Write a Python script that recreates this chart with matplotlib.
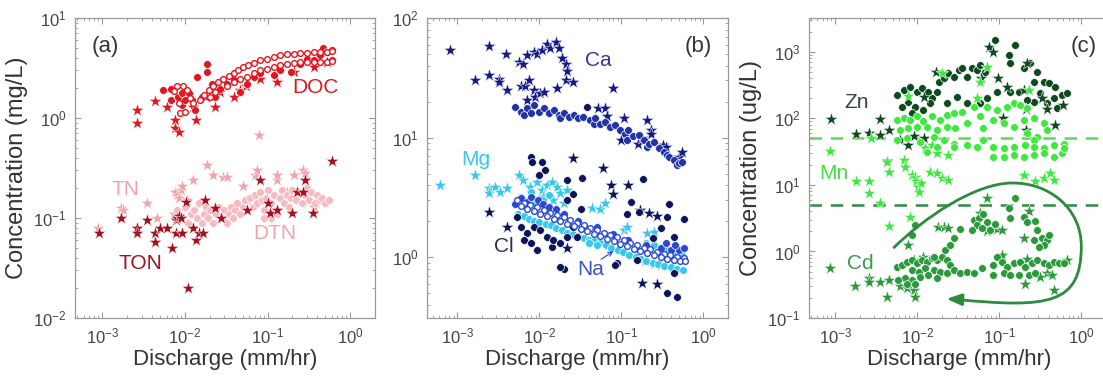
import matplotlib
matplotlib.use("Agg")
import matplotlib.pyplot as plt
from matplotlib.path import Path
from matplotlib.patches import PathPatch

plt.rcParams['font.family'] = ['Liberation Sans', 'DejaVu Sans']
plt.rcParams['mathtext.fontset'] = 'custom'
plt.rcParams['mathtext.rm'] = 'Liberation Sans'
plt.rcParams['mathtext.it'] = 'Liberation Sans:italic'
plt.rcParams['mathtext.bf'] = 'Liberation Sans:bold'

# ---------------- panel (a) data ----------------
doc_star_x = [2.6e-3, 2.6e-3, 4.4e-3, 6.0e-3, 7.6e-3, 7.6e-3, 8.4e-3, 0.0125, 0.0135, 0.018, 0.0233, 0.0267,
              0.0388, 0.0467, 0.055, 0.081, 0.13, 0.206, 0.36, 0.52]
doc_star_y = [1.2, 0.885, 1.48, 1.3, 0.96, 0.79, 0.73, 1.3, 0.96, 1.63, 1.28, 1.8, 1.63, 1.9, 2.1, 2.45, 2.3,
              2.9, 3.26, 3.6]
doc_dot_x = [5.5e-3, 6.7e-3, 6.7e-3, 8.2e-3, 9.2e-3, 9.2e-3, 0.0101, 0.0111, 0.0122, 0.0133, 0.014, 0.0161,
             0.0185, 0.0185, 0.0212, 0.0233, 0.0267, 0.0322, 0.0388, 0.0467, 0.056, 0.068, 0.081, 0.118, 0.142,
             0.19, 0.248, 0.30, 0.36, 0.43, 0.47, 0.52, 0.60, 0.60]
doc_dot_y = [1.9, 1.95, 1.51, 1.63, 1.35, 1.77, 1.51, 1.77, 1.51, 1.2, 2.6, 1.63, 3.5, 2.9, 2.2, 1.63, 1.95, 2.2,
             2.4, 1.8, 2.2, 2.6, 2.8, 2.7, 3.0, 2.9, 3.5, 3.9, 3.8, 4.3, 5.0, 4.6, 4.8, 3.8]
doc_open_x = [9.4e-3, 0.0106, 0.0116, 0.0127, 0.0153, 0.0168, 0.0193, 0.022, 0.025, 0.029, 0.034, 0.039, 0.044,
              0.051, 0.058, 0.068, 0.081, 0.098, 0.118, 0.142, 0.171, 0.206, 0.248, 0.30, 0.36, 0.43, 0.52, 0.60,
              0.020, 0.0233, 0.0322, 0.0388, 0.0467, 0.056, 0.068, 0.081, 0.098, 0.118, 0.142, 0.171, 0.206,
              0.248, 0.30, 0.36, 0.43, 0.52, 0.60,
              7.3e-3, 8.4e-3, 8.8e-3, 0.0101, 8.0e-3]
doc_open_y = [2.1, 1.9, 1.57, 1.4, 1.51, 1.7, 1.9, 2.1, 2.3, 2.45, 2.65, 2.8, 3.0, 3.2, 3.4, 3.55, 3.8, 3.9, 4.1,
              4.25, 4.35, 4.4, 4.5, 4.5, 4.6, 4.6, 4.6, 4.7,
              1.63, 1.8, 2.1, 2.3, 2.45, 2.6, 2.8, 3.0, 3.1, 3.26, 3.4, 3.45, 3.55, 3.65, 3.65, 3.65, 3.65, 3.65,
              3.75,
              1.85, 1.4, 1.11, 1.15, 2.1]
tn_x = [9e-4, 1.7e-3, 1.8e-3, 3.5e-3, 4.6e-3, 7.3e-3, 7.6e-3, 8.0e-3, 8.5e-3, 9.0e-3, 9.1e-3, 0.0105, 0.0126,
        0.0154, 0.0186, 0.022, 0.029, 0.032, 0.051, 0.056, 0.071, 0.074, 0.078, 0.13, 0.13, 0.17, 0.21, 0.27,
        0.28, 0.36]
tn_y = [0.08, 0.126, 0.12, 0.14, 0.10, 0.11, 0.18, 0.17, 0.16, 0.19, 0.21, 0.15, 0.24, 0.14, 0.34, 0.27, 0.26,
        0.26, 0.21, 0.15, 0.27, 0.30, 0.68, 0.24, 0.27, 0.18, 0.27, 0.30, 0.28, 0.13]
dtn_x = [0.008, 0.009, 0.010, 0.011, 0.012, 0.013, 0.014, 0.015, 0.016, 0.017, 0.018, 0.019, 0.020, 0.022, 0.024,
         0.026, 0.028, 0.030, 0.032, 0.034, 0.036, 0.038, 0.040, 0.043, 0.046, 0.050, 0.054, 0.058, 0.062, 0.066,
         0.070, 0.075, 0.080, 0.085, 0.090, 0.095, 0.10, 0.11, 0.12, 0.13, 0.14, 0.15, 0.16, 0.17, 0.18, 0.19,
         0.20, 0.22, 0.24, 0.26, 0.28, 0.30, 0.32, 0.34, 0.37, 0.40, 0.43, 0.46, 0.50, 0.55, 0.11, 0.13, 0.09]
dtn_y = [0.12, 0.10, 0.13, 0.09, 0.11, 0.12, 0.10, 0.14, 0.09, 0.11, 0.13, 0.10, 0.12, 0.09, 0.11, 0.13, 0.10,
         0.12, 0.09, 0.11, 0.13, 0.10, 0.12, 0.14, 0.11, 0.13, 0.15, 0.12, 0.16, 0.13, 0.17, 0.14, 0.18, 0.15,
         0.12, 0.16, 0.19, 0.14, 0.17, 0.12, 0.16, 0.19, 0.14, 0.17, 0.13, 0.16, 0.19, 0.15, 0.18, 0.14, 0.17,
         0.20, 0.15, 0.18, 0.14, 0.17, 0.15, 0.16, 0.14, 0.15, 0.10, 0.11, 0.10]
ton_x = [9.1e-4, 1.7e-3, 2.6e-3, 2.6e-3, 3.5e-3, 4.4e-3, 4.4e-3, 5.0e-3, 6.0e-3, 6.9e-3, 7.8e-3, 8.0e-3, 8.5e-3,
         7.8e-3, 9.3e-3, 9.0e-3, 0.0103, 0.011, 0.0126, 0.0138, 0.015, 0.0166, 0.0177, 0.0234, 0.027, 0.056,
         0.081, 0.10, 0.107, 0.13, 0.195, 0.23, 0.27, 0.28, 0.35, 0.60]
ton_y = [0.071, 0.10, 0.079, 0.071, 0.095, 0.071, 0.058, 0.08, 0.079, 0.050, 0.095, 0.10, 0.105, 0.071, 0.071,
         0.10, 0.145, 0.020, 0.079, 0.060, 0.07, 0.071, 0.15, 0.126, 0.10, 0.12, 0.24, 0.14, 0.112, 0.12, 0.112,
         0.18, 0.18, 0.24, 0.112, 0.37]

# ---------------- panel (b) data ----------------
ca_star_x = [8.2e-4, 1.66e-3, 2.4e-3, 2.4e-3, 3.2e-3, 3.2e-3, 3.9e-3, 4.0e-3, 5.6e-3, 5.9e-3, 6.4e-3, 6.7e-3,
             7.1e-3, 7.1e-3, 7.4e-3, 8.5e-3, 8.5e-3, 8.9e-3, 9.3e-3, 0.0103, 0.0107, 0.0113, 0.0123, 0.0135,
             0.0158, 0.0165, 0.0174, 0.019, 0.021, 0.021, 0.022, 0.026, 0.052, 0.063, 0.067, 0.078, 0.10, 0.107,
             0.16, 0.18, 0.205, 0.23, 0.23, 0.32, 0.35, 0.50, 0.55]
ca_star_y = [54, 30.5, 58, 33.5, 31, 29, 50, 25, 43, 27, 41, 27, 49, 20.6, 30, 52, 25, 22, 50, 23.4, 54, 24, 61,
             56, 63, 26, 56, 46, 41, 30, 36, 29, 17.5, 17.5, 15, 26, 9.5, 14.5, 8.9, 10, 14, 11.5, 10.8, 8.7,
             8.3, 6.9, 7.6]
ca_dot_x = [5.1e-3, 5.9e-3, 6.45e-3, 7.06e-3, 7.8e-3, 8.5e-3, 9.8e-3, 0.0113, 0.013, 0.015, 0.0172, 0.018,
            0.0198, 0.0228, 0.0262, 0.030, 0.0345, 0.0418, 0.046, 0.048, 0.0554, 0.064, 0.0733, 0.0843, 0.097,
            0.111, 0.117, 0.122, 0.14, 0.162, 0.187, 0.205, 0.215, 0.248, 0.285, 0.328, 0.36, 0.377, 0.434,
            0.475, 0.50, 0.55]
ca_dot_y = [18.1, 16.5, 15.4, 17.6, 15.9, 18.7, 16.5, 17.6, 15.9, 17.0, 15.4, 14.5, 15.9, 14.9, 15.4, 14.5,
            14.9, 14.0, 13.1, 14.5, 13.1, 13.6, 12.3, 12.7, 11.6, 10.8, 9.5, 11.6, 10.2, 10.5, 9.5, 8.4, 8.9,
            9.2, 8.1, 7.6, 7.1, 6.9, 6.5, 5.9, 6.1, 6.3]
mg_star_x = [6.2e-4, 1.66e-3, 2.4e-3, 2.4e-3, 2.9e-3, 3.3e-3, 4.0e-3, 5.6e-3, 6.4e-3, 7.4e-3, 7.7e-3, 8.9e-3,
             9.3e-3, 0.0107, 0.0112, 0.0123, 0.0141, 0.0148, 0.0165, 0.018, 0.020, 0.022, 0.044, 0.055, 0.064,
             0.107, 0.117, 0.195, 0.205, 0.248, 0.248, 0.30, 0.43]
mg_star_y = [4.0, 4.9, 3.76, 3.41, 3.88, 3.5, 3.76, 4.85, 4.4, 3.0, 3.88, 2.81, 4.27, 3.64, 3.2, 4.0, 4.27, 3.0,
             3.88, 3.41, 2.81, 3.64, 2.55, 2.5, 2.83, 1.7, 1.8, 0.92, 1.58, 1.63, 0.88, 0.86, 0.82]
mg_dot_x = [5.5e-3, 6.5e-3, 7.5e-3, 8.5e-3, 0.010, 0.012, 0.014, 0.016, 0.019, 0.022, 0.026, 0.030, 0.035,
            0.040, 0.047, 0.055, 0.065, 0.075, 0.090, 0.105, 0.125, 0.150, 0.175, 0.20, 0.24, 0.28, 0.33, 0.40,
            0.48, 0.57, 0.20, 0.25, 0.30, 0.36, 0.45, 0.55, 6.0e-3, 8.0e-3, 0.011, 0.013, 0.04, 0.05]
mg_dot_y = [2.3, 2.2, 2.1, 2.0, 1.95, 1.9, 1.85, 1.75, 1.7, 1.6, 1.55, 1.5, 1.45, 1.4, 1.35, 1.3, 1.25, 1.2,
            1.15, 1.1, 1.05, 1.0, 0.97, 0.93, 0.9, 0.87, 0.84, 0.82, 0.80, 0.78, 1.3, 1.25, 1.2, 1.15, 1.1, 1.05,
            3.2, 3.5, 3.0, 3.3, 1.3, 1.25]
cl_star_x = [2.4e-3, 4.0e-3, 0.026, 0.060, 0.12, 0.022, 0.17, 0.22, 0.27, 0.074, 0.078, 0.18, 0.27]
cl_star_y = [2.4, 1.78, 6.8, 5.6, 4.0, 1.19, 2.46, 2.35, 2.2, 4.0, 3.4, 0.61, 0.60]
cl_dot_x = [7.8e-3, 8.1e-3, 0.0107, 0.0117, 9.9e-3, 5.3e-3, 5.9e-3, 7.1e-3, 6.5e-3, 7.8e-3, 9.3e-3, 8.5e-3,
            0.0102, 0.0123, 0.0141, 0.0148, 0.018, 0.022, 0.026, 0.029, 0.020, 0.033, 0.022, 0.022, 0.026, 0.032,
            0.089, 0.13, 0.117, 0.162, 0.155, 0.20, 0.24, 0.30, 0.36, 0.38, 0.44, 0.58, 0.44, 0.36, 0.48, 0.185,
            0.038, 0.018, 0.084]
cl_dot_y = [6.9, 6.2, 6.2, 5.4, 4.9, 2.18, 1.80, 1.58, 1.39, 1.30, 1.14, 1.80, 1.68, 1.48, 1.22, 1.39, 1.30,
            1.48, 1.80, 1.48, 0.80, 4.6, 4.4, 3.0, 3.4, 2.5, 0.89, 2.9, 2.3, 2.4, 0.94, 1.15, 1.43, 1.74, 2.18,
            2.8, 1.48, 2.1, 0.74, 0.50, 0.46, 4.5, 18, 0.83, 0.85]
na_open_x = [5.35e-3, 6.44e-3, 7.76e-3, 9.37e-3, 0.0113, 0.0136, 0.0164, 0.0198, 0.0239, 0.0288, 0.0347,
             0.0419, 0.0505, 0.0609, 0.0735, 0.0886, 0.107, 0.129, 0.155, 0.187, 0.226, 0.272, 0.328, 0.396,
             0.478, 0.576,
             5.9e-3, 7.1e-3, 8.5e-3, 0.0103, 0.0124, 0.015, 0.018, 0.0218, 0.0263, 0.0318, 0.0383, 0.046,
             0.0556, 0.067, 0.081, 0.097, 0.117, 0.142, 0.171, 0.206, 0.248, 0.30, 0.36, 0.435, 0.525, 0.60]
na_open_y = [3.0, 2.85, 2.72, 2.6, 2.47, 2.35, 2.25, 2.15, 2.04, 1.94, 1.84, 1.76, 1.68, 1.60, 1.53, 1.46, 1.39,
             1.32, 1.26, 1.20, 1.16, 1.11, 1.07, 1.04, 1.01, 0.975,
             2.65, 2.52, 2.42, 2.3, 2.2, 2.1, 2.0, 1.9, 1.81, 1.72, 1.64, 1.56, 1.49, 1.42, 1.35, 1.29, 1.23,
             1.17, 1.12, 1.08, 1.04, 1.0, 0.97, 0.95, 0.93, 0.92]
na_dot_x = [5.0e-3, 6.0e-3, 7.0e-3, 8.0e-3, 9.5e-3, 0.011, 0.013, 0.016, 0.02, 0.03, 0.05, 0.08, 0.12, 0.2, 0.3,
            0.4, 0.5, 0.58, 0.35, 0.45]
na_dot_y = [2.8, 3.1, 2.9, 3.2, 3.0, 2.8, 2.6, 2.5, 2.3, 2.0, 1.8, 1.55, 1.4, 1.25, 1.2, 1.15, 1.15, 1.2, 1.3,
            1.25]

# ---------------- panel (c) data ----------------
zn_star_x = [8.9e-4, 1.8e-3, 2.6e-3, 3.5e-3, 3.5e-3, 4.5e-3, 4.3e-3, 6.2e-3, 7.8e-3, 9.1e-3, 0.012, 0.012,
             0.017, 0.06, 0.074, 0.085, 0.097, 0.11, 0.123, 0.20, 0.21, 0.21, 0.22, 0.33, 0.38, 0.48, 0.60]
zn_star_y = [97, 58, 60, 57, 97, 68, 23, 48, 40, 54, 50, 213, 500, 400, 1200, 1000, 400, 100, 300, 270, 141, 67,
             675, 200, 141, 79, 158]
zn_dot_x = [5.6e-3, 6.8e-3, 8.2e-3, 9.9e-3, 0.0114, 0.0137, 0.0151, 0.0174, 7.8e-3, 9.5e-3, 0.0119, 0.0144,
            8.6e-3, 6.5e-3, 0.0182, 0.021, 0.024, 0.0277, 0.032, 0.035, 0.040, 0.046, 0.053, 0.059, 0.067, 0.089,
            0.13, 0.136, 0.157, 0.198, 0.239, 0.288, 0.262, 0.348, 0.40, 0.48, 0.58, 0.67, 0.46, 0.316, 0.262,
            0.217, 0.172, 0.136, 0.094, 0.071, 0.059, 0.0305, 0.023, 0.040, 0.381, 0.50]
zn_dot_y = [225, 268, 301, 254, 284, 254, 201, 254, 179, 151, 134, 169, 120, 151, 358, 402, 478, 426, 536, 568,
            426, 568, 536, 638, 506, 1510, 900, 676, 1270, 568, 676, 506, 358, 358, 338, 301, 225, 239, 201, 239,
            179, 190, 254, 254, 254, 201, 169, 213, 169, 169, 169, 142]
mn_star_x = [8.7e-4, 1.8e-3, 2.55e-3, 2.55e-3, 2.7e-3, 3.5e-3, 4.3e-3, 4.5e-3, 4.5e-3, 6.8e-3, 7.1e-3, 8.2e-3,
             8.6e-3, 9.3e-3, 9.6e-3, 0.0102, 0.0105, 0.011, 0.0125, 0.0144, 0.015, 0.0174, 0.0174, 0.020, 0.020,
             0.024, 0.024, 0.053, 0.059, 0.071, 0.20, 0.23, 0.275, 0.35, 0.42, 0.46, 7.8e-3]
mn_star_y = [32, 11.3, 11.3, 7.5, 50, 5.3, 22.4, 15.8, 2.4, 23.8, 18.9, 3.3, 14, 13.3, 11.3, 9.4, 7.9, 10.6, 36,
             15.8, 40, 15, 30, 12.6, 478, 11.9, 28, 200, 358, 600, 14, 270, 11.3, 12.6, 15, 11.9, 218]
mn_dot_x = [5.6e-3, 6.8e-3, 8.2e-3, 9.9e-3, 0.0119, 0.0151, 0.019, 0.023, 0.0277, 0.035, 6.2e-3, 7.8e-3, 9.9e-3,
            0.0131, 0.0174, 0.023, 0.029, 0.040, 0.059, 0.0486, 0.071, 0.094, 0.124, 0.15, 0.18, 0.217, 0.064,
            0.085, 0.113, 0.15, 0.198, 0.262, 0.348, 0.381, 0.288, 0.217, 0.262, 5.6e-3, 7.5e-3, 0.0109, 0.0158,
            0.021, 0.0277, 0.0131, 0.0174, 0.085, 0.113, 0.15, 0.207, 0.262, 0.348, 0.46, 0.61, 0.085, 0.113,
            0.15, 0.198, 0.262, 0.348, 0.46, 0.58, 0.61, 0.0277, 0.040, 0.053, 0.064]
mn_dot_y = [95, 101, 95, 107, 90, 107, 95, 113, 120, 127, 67, 71, 75, 75, 67, 75, 71, 85, 107, 151, 151, 134,
            151, 169, 160, 142, 71, 95, 85, 75, 95, 101, 85, 67, 53, 60, 48, 48, 50, 45, 53, 48, 42, 31.7, 37.7,
            37.7, 35.6, 37.7, 40, 37.7, 35.6, 40, 42, 26.7, 26.7, 28.3, 26.7, 28.3, 30, 26.7, 30, 35.6, 37.7, 40,
            37.7, 48]
cd_star_x = [8.7e-4, 1.75e-3, 2.6e-3, 2.6e-3, 3.5e-3, 4.5e-3, 4.3e-3, 7.8e-3, 6.2e-3, 7.5e-3, 9.0e-3, 9.5e-3,
             9.0e-3, 0.0119, 0.018, 0.021, 0.024, 0.059, 0.071, 0.071, 0.094, 0.108, 0.108, 0.198, 0.23, 0.207,
             0.217, 0.316, 0.38, 0.44, 0.46, 0.67]
cd_star_y = [0.56, 0.30, 0.40, 0.35, 0.35, 0.37, 0.21, 1.25, 0.30, 0.28, 0.26, 0.21, 0.75, 0.84, 2.36, 2.36, 2.23,
             3.75, 6.3, 2.0, 2.2, 2.1, 0.9, 1.58, 4.0, 0.32, 0.78, 0.42, 0.48, 0.44, 0.26, 0.745]
cd_dot_x = [5.6e-3, 6.5e-3, 7.5e-3, 8.6e-3, 9.9e-3, 0.0114, 0.0131, 0.0151, 0.0174, 0.020, 0.023, 0.0252, 8.6e-3,
            0.0104, 0.0125, 0.0158, 0.019, 0.023, 0.0277, 0.0334, 0.040, 0.0486, 0.0615, 7.1e-3, 8.6e-3, 0.0109,
            0.0137, 0.0174, 5.9e-3, 7.5e-3, 9.5e-3, 0.0158, 0.0219, 0.0252, 0.0277, 0.0334, 8.6e-3, 9.5e-3,
            0.0486, 0.056, 0.064, 0.071, 0.0776, 0.089, 0.053, 0.0615, 0.046, 0.13, 0.136, 0.157, 0.198, 0.217,
            0.275, 0.288, 0.331, 0.381, 0.348, 0.40, 0.262, 0.302, 0.085, 0.094, 0.108, 0.124, 0.15, 0.18, 0.207,
            0.25, 0.288, 0.348, 0.40, 0.46, 0.53, 0.61, 0.085, 0.113, 0.136, 0.172, 0.23, 0.275]
cd_dot_y = [0.59, 0.63, 0.70, 0.745, 0.66, 0.745, 0.70, 0.79, 0.745, 0.84, 0.745, 0.63, 0.53, 0.50, 0.56, 0.53,
            0.50, 0.47, 0.53, 0.47, 0.50, 0.47, 0.56, 0.40, 0.37, 0.42, 0.44, 0.40, 0.37, 0.33, 0.33, 0.84, 1.05,
            1.25, 1.58, 2.2, 1.75, 2.5, 3.0, 3.2, 3.6, 2.8, 2.1, 2.6, 2.5, 2.25, 2.1, 4.46, 3.2, 6.3, 3.3, 2.8,
            2.9, 2.1, 1.6, 1.5, 1.25, 1.8, 1.5, 1.15, 0.63, 0.84, 0.70, 0.59, 0.66, 0.70, 0.59, 0.66, 0.745, 0.66,
            0.63, 0.70, 0.66, 0.66, 0.44, 0.47, 0.44, 0.44, 0.44, 0.47]
mn_limit = 50
cd_limit = 5
# hysteresis arrow (cubic Bezier anchor/control points in data units)
loop_x = [5.1e-3, 0.012, 0.05, 0.14, 0.4, 1.0, 1.0, 1.0, 0.4, 0.03]
loop_y = [1.12, 3.2, 10.5, 10.7, 11.0, 4.5, 1.2, 0.16, 0.14, 0.19]

# ---------------- colours ----------------
C_DOC = '#E3161F'
C_TN = '#F2A3AC'
C_DTN = '#F5BBC1'
C_TON = '#A3101F'
C_CA_S = '#16198A'
C_CA_D = '#2233A6'
C_MG = '#38C8EE'
C_CL = '#0C1559'
C_NA = '#2B47D4'
C_ZN = '#0F4A1F'
C_MN = '#3FE83F'
C_CD = '#2B9A3B'
GRAY = '#999999'

W, H = 1103, 377
fig = plt.figure(figsize=(W / 100, H / 100), dpi=100)


def rect(l, t, w, h):
    return [l / W, (H - t - h) / H, w / W, h / H]


ax_a = fig.add_axes(rect(75, 18, 300, 300))
ax_b = fig.add_axes(rect(427, 18, 301, 300))
ax_c = fig.add_axes(rect(809, 18, 301, 300))

STAR = 95
DOT = 32


def stars(ax, x, y, c, z=3):
    ax.scatter(x, y, s=STAR, marker='*', c=c, edgecolors='white', linewidths=0.35, zorder=z)


def dots(ax, x, y, c, z=3):
    ax.scatter(x, y, s=DOT, marker='o', c=c, edgecolors='white', linewidths=0.5, zorder=z)


def opens(ax, x, y, c, z=4):
    ax.scatter(x, y, s=17, marker='o', facecolors='white', edgecolors=c, linewidths=1.0, zorder=z)


# panel a
stars(ax_a, tn_x, tn_y, C_TN, 2)
dots(ax_a, dtn_x, dtn_y, C_DTN, 2)
stars(ax_a, ton_x, ton_y, C_TON, 3)
stars(ax_a, doc_star_x, doc_star_y, C_DOC, 3)
dots(ax_a, doc_dot_x, doc_dot_y, C_DOC, 3)
opens(ax_a, doc_open_x, doc_open_y, C_DOC, 4)

# panel b
stars(ax_b, ca_star_x, ca_star_y, C_CA_S, 2)
dots(ax_b, ca_dot_x, ca_dot_y, C_CA_D, 3)
stars(ax_b, mg_star_x, mg_star_y, C_MG, 2)
dots(ax_b, mg_dot_x, mg_dot_y, C_MG, 3)
stars(ax_b, cl_star_x, cl_star_y, C_CL, 3)
dots(ax_b, cl_dot_x, cl_dot_y, C_CL, 3)
dots(ax_b, na_dot_x, na_dot_y, C_NA, 3)
opens(ax_b, na_open_x, na_open_y, C_NA, 4)

# panel c
stars(ax_c, zn_star_x, zn_star_y, C_ZN, 3)
dots(ax_c, zn_dot_x, zn_dot_y, C_ZN, 2)
stars(ax_c, mn_star_x, mn_star_y, C_MN, 3)
dots(ax_c, mn_dot_x, mn_dot_y, C_MN, 3)
stars(ax_c, cd_star_x, cd_star_y, C_CD, 3)
dots(ax_c, cd_dot_x, cd_dot_y, C_CD, 3)
ax_c.axhline(mn_limit, color='#5DD85D', ls=(0, (5, 3.5)), lw=1.8, zorder=1)
ax_c.axhline(cd_limit, color='#2E8B40', ls=(0, (5, 3.5)), lw=1.8, zorder=1)

verts = list(zip(loop_x, loop_y))
codes = [Path.MOVETO] + [Path.CURVE4] * 9
ax_c.add_patch(PathPatch(Path(verts, codes), facecolor='none', edgecolor='#2E8B3E', lw=2.0, zorder=5))
ax_c.annotate('', xy=(0.021, 0.195), xytext=(0.032, 0.19),
              arrowprops=dict(arrowstyle='-|>,head_length=0.9,head_width=0.35', color='#2E8B3E', lw=2.0),
              zorder=5)

# Na pointer
ax_b.annotate('', xy=(0.085, 1.15), xytext=(0.053, 0.93),
              arrowprops=dict(arrowstyle='->,head_length=0.3,head_width=0.15', color=C_NA, lw=0.8), zorder=6)

# axes formatting
for ax in (ax_a, ax_b, ax_c):
    ax.set_xscale('log')
    ax.set_yscale('log')
    for sp in ax.spines.values():
        sp.set_color(GRAY)
        sp.set_linewidth(0.9)
    ax.tick_params(which='both', direction='in', top=True, right=True, color=GRAY)
    ax.tick_params(which='major', length=4, width=0.8, labelsize=12, labelcolor='#444444', pad=6)
    ax.tick_params(which='minor', length=2.2, width=0.6)
    ax.set_xlabel('Discharge (mm/hr)', fontsize=16, color='#333333', labelpad=2)

ax_a.set_xlim(10 ** -3.33, 10 ** 0.30)
ax_a.set_ylim(1e-2, 1e1)
ax_b.set_xlim(10 ** -3.37, 10 ** 0.30)
ax_b.set_ylim(10 ** -0.51, 1e2)
ax_c.set_xlim(10 ** -3.32, 10 ** 0.35)
ax_c.set_ylim(1e-1, 10 ** 3.51)

ax_a.set_ylabel('Concentration (mg/L)', fontsize=17, color='#333333', labelpad=4)
ax_c.set_ylabel('Concentration (ug/L)', fontsize=17, color='#333333', labelpad=4)

ax_a.text(0.057, 0.905, '(a)', transform=ax_a.transAxes, ha='left', va='center', fontsize=16, color='#333333')
ax_a.text(0.80, 0.767, 'DOC', transform=ax_a.transAxes, ha='center', va='center', fontsize=15, color=C_DOC)
ax_a.text(0.167, 0.427, 'TN', transform=ax_a.transAxes, ha='center', va='center', fontsize=15, color=C_TN)
ax_a.text(0.667, 0.283, 'DTN', transform=ax_a.transAxes, ha='center', va='center', fontsize=15, color=C_TN)
ax_a.text(0.217, 0.183, 'TON', transform=ax_a.transAxes, ha='center', va='center', fontsize=15, color=C_TON)

ax_b.text(0.945, 0.905, '(b)', transform=ax_b.transAxes, ha='right', va='center', fontsize=16, color='#333333')
ax_b.text(0.568, 0.857, 'Ca', transform=ax_b.transAxes, ha='center', va='center', fontsize=15, color='#34379A')
ax_b.text(0.163, 0.527, 'Mg', transform=ax_b.transAxes, ha='center', va='center', fontsize=15, color=C_MG)
ax_b.text(0.256, 0.24, 'Cl', transform=ax_b.transAxes, ha='center', va='center', fontsize=15, color='#2A2F5C')
ax_b.text(0.545, 0.163, 'Na', transform=ax_b.transAxes, ha='center', va='center', fontsize=15, color='#3A55C8')

ax_c.text(0.955, 0.905, '(c)', transform=ax_c.transAxes, ha='right', va='center', fontsize=16, color='#333333')
ax_c.text(0.159, 0.717, 'Zn', transform=ax_c.transAxes, ha='center', va='center', fontsize=15, color='#2F4A35')
ax_c.text(0.083, 0.483, 'Mn', transform=ax_c.transAxes, ha='center', va='center', fontsize=15, color='#45DD45')
ax_c.text(0.17, 0.183, 'Cd', transform=ax_c.transAxes, ha='center', va='center', fontsize=15, color='#3A9A4A')

fig.savefig('out.png', dpi=100)
